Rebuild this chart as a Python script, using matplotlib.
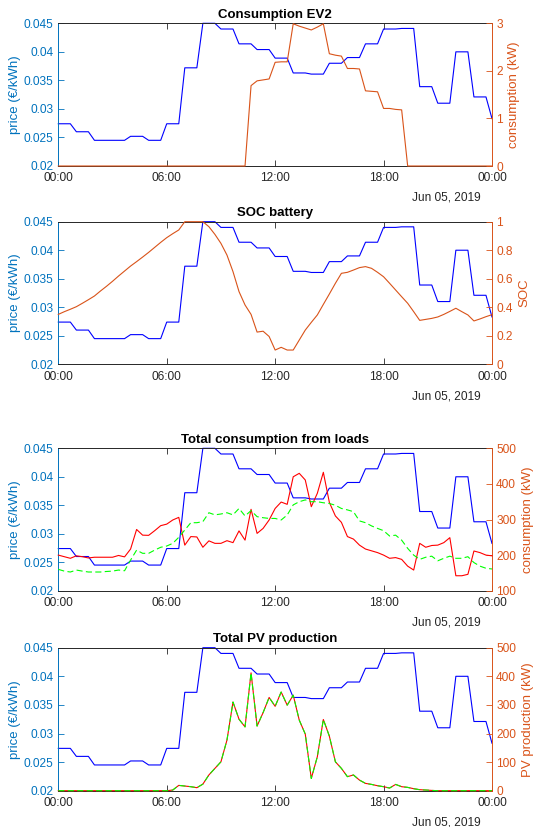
import numpy as np
import matplotlib
matplotlib.use("Agg")
import matplotlib.pyplot as plt

plt.rcParams["font.family"] = ["Liberation Sans", "DejaVu Sans"]

# 20-minute samples over one day (00:00 .. 24:00)
hours = np.arange(73) / 3.0

# day-ahead price, one value per hour, plus first hour of the next day
hourly_price = [0.0274, 0.0260, 0.0245, 0.0245, 0.0252, 0.0245, 0.0274, 0.0372,
                0.0450, 0.0440, 0.0414, 0.0404, 0.0389, 0.0363, 0.0361, 0.0380,
                0.0390, 0.0414, 0.0440, 0.0441, 0.0339, 0.0310, 0.0400, 0.0321]
next_day_price = 0.0283
price = np.append(np.repeat(hourly_price, 3), next_day_price)

ev2_kw = [0, 0, 0, 0, 0, 0, 0, 0, 0, 0, 0, 0, 0, 0, 0, 0,
          0, 0, 0, 0, 0, 0, 0, 0, 0, 0, 0, 0, 0, 0, 0, 0,
          1.69, 1.79, 1.81, 1.83, 2.18, 2.19, 2.19, 2.99, 2.94, 2.90, 2.86, 2.92, 2.99,
          2.36, 2.33, 2.31, 2.05, 2.05, 2.04, 1.58, 1.57, 1.56, 1.21, 1.21, 1.19, 1.18,
          0, 0, 0, 0, 0, 0, 0, 0, 0, 0, 0, 0, 0, 0, 0]

soc = [0.350, 0.369, 0.386, 0.404, 0.428, 0.453, 0.479, 0.514, 0.547, 0.582,
       0.619, 0.654, 0.689, 0.720, 0.752, 0.785, 0.820, 0.855, 0.888, 0.916,
       0.942, 1.000, 1.000, 1.000, 1.000, 0.965, 0.911, 0.848, 0.766, 0.650,
       0.510, 0.416, 0.350, 0.226, 0.232, 0.195, 0.100, 0.119, 0.100, 0.100,
       0.170, 0.240, 0.294, 0.346, 0.420, 0.493, 0.568, 0.638, 0.645, 0.661,
       0.678, 0.685, 0.673, 0.645, 0.614, 0.568, 0.521, 0.474, 0.428, 0.369,
       0.308, 0.315, 0.322, 0.332, 0.350, 0.371, 0.393, 0.369, 0.346, 0.304,
       0.318, 0.334, 0.348]

load_actual_kw = [200, 195.5, 191, 198, 195.5, 192, 194, 194, 194, 194, 199, 195,
                  217, 272, 256, 255.5, 268.6, 282.7, 287, 298.6, 306, 228, 252, 251,
                  222, 240, 233, 233, 240.5, 235, 268, 242, 328.6, 261, 275, 298.6,
                  331, 349, 342.6, 420, 429.7, 411, 336, 373.5, 432.6, 348, 310, 292,
                  252, 245, 228, 217, 212, 207, 200, 191, 193, 188, 169, 158,
                  233, 222, 227, 228, 235, 249, 142, 142, 146, 211.5, 207, 200, 198]

load_forecast_kw = [160, 155, 152.5, 158, 155, 152.5, 152.5, 152.5, 154, 155, 158, 156,
                    186, 214, 205, 205, 214, 222, 225.5, 233, 250, 270.5, 291, 291,
                    294, 319, 313, 315.5, 319, 313, 331, 310, 325, 308, 305, 303,
                    303, 298.6, 312.6, 341, 350, 355, 350, 350, 347, 345, 340, 331,
                    327, 322, 296, 291, 282, 275, 268.6, 253.6, 256, 242, 219, 200,
                    188, 194, 197, 184, 191, 197, 191, 191, 195.5, 179, 169, 163, 161]

pv_kw = [0, 0, 0, 0, 0, 0, 0, 0, 0, 0, 0, 0, 0, 0, 0, 0, 0, 0, 0,
         2.3, 18.6, 16.3, 14, 10.5, 23, 55, 78, 101, 177, 310, 250, 223, 412,
         226, 273, 326, 295, 345, 299, 334, 247, 198, 43, 118.6, 249, 190.7,
         101, 78, 49, 55, 37, 25.6, 22, 17.4, 14, 9.3, 22, 14, 11.6, 7, 3.5,
         2.3, 1, 0, 0, 0, 0, 0, 0, 0, 0, 0, 0]

tick_hours = [0, 6, 12, 18, 24]
tick_labels = ["00:00", "06:00", "12:00", "18:00", "00:00"]
price_ticks = [0.02, 0.025, 0.03, 0.035, 0.04, 0.045]
price_tick_labels = ["0.02", "0.025", "0.03", "0.035", "0.04", "0.045"]
date_label = "Jun 05, 2019"

LEFT_C = "#0072BD"
RIGHT_C = "#D95319"
DARK = "#262626"
W, H = 533, 827
AX_L, AX_R = 58.3, 492.0
TICK_FS = 8.6
LABEL_FS = 9.5
LW = 0.8
DASH = (0, (5.5, 3))

fig = plt.figure(figsize=(W / 100, H / 100), dpi=100)


def panel(top, bottom, title, right_label, right_lim, right_ticks):
    rect = [AX_L / W, 1 - bottom / H, (AX_R - AX_L) / W, (bottom - top) / H]
    ax = fig.add_axes(rect)
    ax.plot(hours, price, color="#0000FF", lw=LW, clip_on=False, zorder=2)
    ax.set_xlim(0, 24)
    ax.set_ylim(0.02, 0.045)
    ax.set_xticks(tick_hours)
    ax.set_xticklabels(tick_labels)
    ax.set_yticks(price_ticks)
    ax.set_yticklabels(price_tick_labels)
    ax.tick_params(axis="x", direction="in", top=True, length=4, width=0.6,
                   colors=DARK, labelsize=TICK_FS, pad=4.5)
    ax.tick_params(axis="y", direction="in", length=4, width=0.6,
                   colors=LEFT_C, labelsize=TICK_FS, pad=3.5)
    ax.set_ylabel("price (€/kWh)", color=LEFT_C, fontsize=LABEL_FS, labelpad=2)
    for s in ("top", "bottom"):
        ax.spines[s].set_color(DARK)
        ax.spines[s].set_linewidth(0.7)
    ax.spines["left"].set_color(LEFT_C)
    ax.spines["left"].set_linewidth(0.7)
    ax.spines["right"].set_visible(False)

    ax2 = ax.twinx()
    ax2.set_ylim(*right_lim)
    ax2.set_yticks(right_ticks)
    ax2.set_yticklabels([str(t) for t in right_ticks])
    ax2.tick_params(axis="y", direction="in", length=4, width=0.6,
                    colors=RIGHT_C, labelsize=TICK_FS, pad=3)
    ax2.set_ylabel(right_label, color=RIGHT_C, fontsize=LABEL_FS, labelpad=4)
    for s in ("top", "bottom", "left"):
        ax2.spines[s].set_visible(False)
    ax2.spines["right"].set_color(RIGHT_C)
    ax2.spines["right"].set_linewidth(0.7)

    fig.text(0.5 * (AX_L + AX_R) / W, 1 - (top - 5.7) / H, title,
             ha="center", va="baseline", fontsize=LABEL_FS, fontweight="bold",
             color="black")
    fig.text(481 / W, 1 - (bottom + 31.8) / H, date_label, ha="right",
             va="center", fontsize=TICK_FS, color=DARK)
    return ax2


r1 = panel(23.3, 166.0, "Consumption EV2", "consumption (kW)", (0, 3), [0, 1, 2, 3])
r1.plot(hours, ev2_kw, color=RIGHT_C, lw=LW, clip_on=False, zorder=3)

r2 = panel(221.7, 364.3, "SOC battery", "SOC", (0, 1), [0, 0.2, 0.4, 0.6, 0.8, 1])
r2.set_yticklabels(["0", "0.2", "0.4", "0.6", "0.8", "1"])
r2.plot(hours, soc, color=RIGHT_C, lw=LW, clip_on=False, zorder=3)

r3 = panel(448.3, 590.7, "Total consumption from loads", "consumption (kW)",
           (100, 500), [100, 200, 300, 400, 500])
r3.plot(hours, load_actual_kw, color="#FF0000", lw=LW, clip_on=False, zorder=3)
r3.plot(hours, load_forecast_kw, color="#00FF00", lw=LW, ls=DASH,
        clip_on=False, zorder=3)

r4 = panel(647.7, 790.7, "Total PV production", "PV production (kW)",
           (0, 500), [0, 100, 200, 300, 400, 500])
r4.plot(hours, pv_kw, color="#FF0000", lw=LW, clip_on=False, zorder=3)
r4.plot(hours, pv_kw, color="#00FF00", lw=LW, ls=DASH,
        clip_on=False, zorder=3)

fig.savefig("out.png", dpi=100)
